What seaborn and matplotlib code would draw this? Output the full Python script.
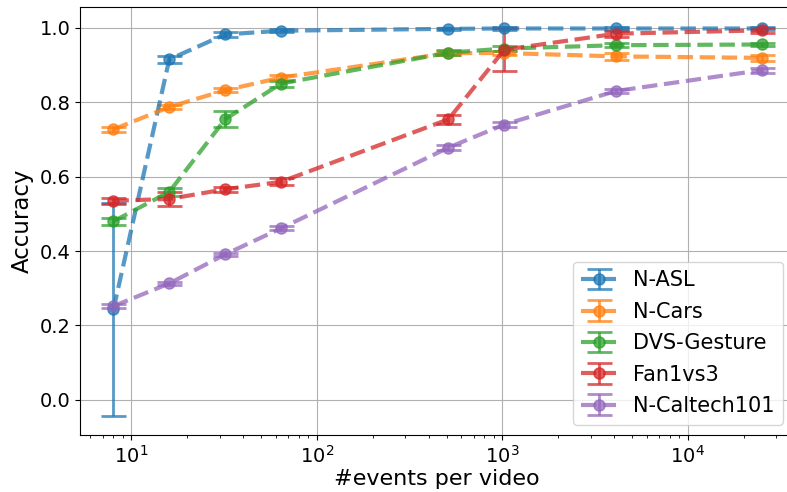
import matplotlib
matplotlib.use("Agg")
import matplotlib.pyplot as plt
import seaborn as sns
import numpy as np

# ============================================
# DATA
# ============================================
n_events = [8, 16, 32, 64, 512, 1024, 4096, 25000]
datasets = ['N-ASL', 'N-Cars', 'DVS-Gesture', 'Fan1vs3', 'N-Caltech101']

acc_nasl = [0.243, 0.915, 0.982, 0.992, 0.997, 0.998, 0.998, 0.998]
err_nasl = [0.285, 0.010, 0.006, 0.004, 0.003, 0.003, 0.003, 0.003]

acc_ncars = [0.727, 0.787, 0.832, 0.866, 0.932, 0.932, 0.923, 0.919]
err_ncars = [0.006, 0.005, 0.006, 0.006, 0.005, 0.006, 0.009, 0.008]

acc_dvs = [0.480, 0.559, 0.754, 0.850, 0.933, 0.944, 0.953, 0.955]
err_dvs = [0.010, 0.010, 0.021, 0.008, 0.006, 0.006, 0.005, 0.005]

acc_fan = [0.535, 0.540, 0.566, 0.586, 0.754, 0.941, 0.984, 0.993]
err_fan = [0.008, 0.019, 0.006, 0.009, 0.012, 0.057, 0.008, 0.006]

acc_caltech = [0.252, 0.313, 0.391, 0.461, 0.678, 0.740, 0.830, 0.886]
err_caltech = [0.006, 0.005, 0.005, 0.005, 0.006, 0.006, 0.005, 0.007]

all_acc = [acc_nasl, acc_ncars, acc_dvs, acc_fan, acc_caltech]
all_err = [err_nasl, err_ncars, err_dvs, err_fan, err_caltech]

# ============================================
# PLOT
# ============================================
colors = sns.color_palette("tab10", len(datasets))

fig, ax = plt.subplots(figsize=(7.87, 4.92), dpi=100)
# axes run slightly past the right edge, as in the cropped original
fig.subplots_adjust(left=0.102, right=1.008, top=0.986, bottom=0.116)

for name, acc, err, c in zip(datasets, all_acc, all_err, colors):
    ax.errorbar(n_events, acc, yerr=err, label=name, color=c,
                linestyle='--', linewidth=3, marker='o', markersize=8,
                capsize=9, capthick=2, elinewidth=2, alpha=0.75)

ax.set_xscale('log')
ax.set_xlim(5.3, 37000)
ax.set_ylim(-0.094, 1.056)
ax.set_yticks([0.0, 0.2, 0.4, 0.6, 0.8, 1.0])
ax.grid(True)
ax.tick_params(axis='both', which='major', labelsize=14)
ax.set_xlabel('#events per video', fontsize=16, labelpad=2)
ax.set_ylabel('Accuracy', fontsize=16.5)
ax.legend(loc='lower right', fontsize=15, labelspacing=0.55, handlelength=1.7)

plt.savefig('out.png', dpi=100)
